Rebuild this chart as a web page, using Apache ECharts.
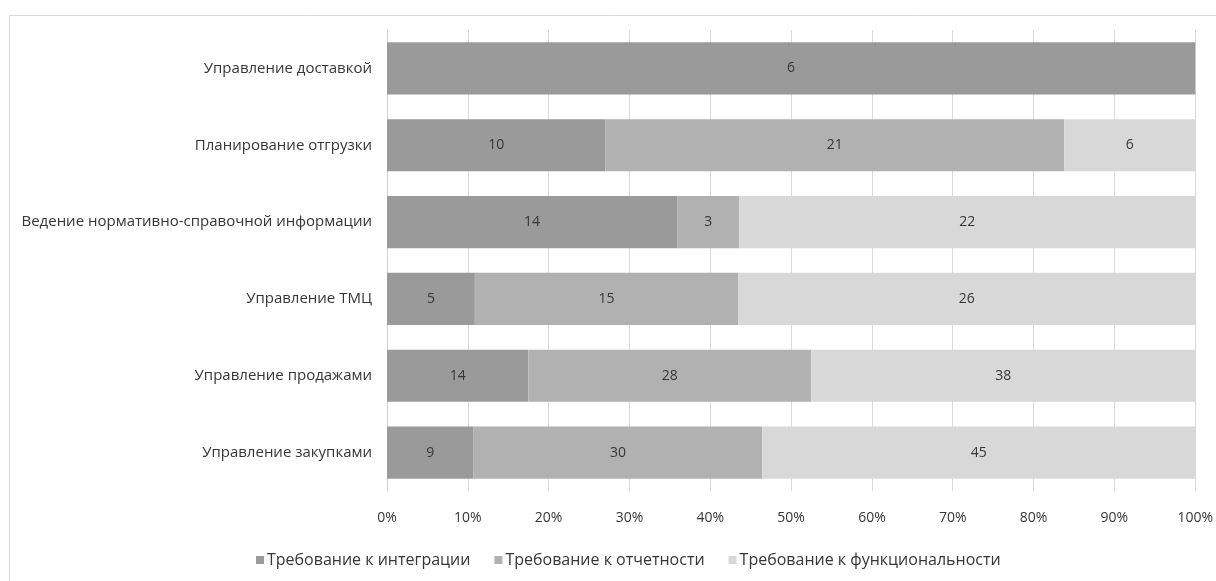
<!DOCTYPE html>
<html>
<head>
<meta charset="utf-8">
<script src="https://cdn.jsdelivr.net/npm/echarts@6/dist/echarts.min.js"></script>
<style>
  html, body { margin: 0; padding: 0; background: #fff; }
  #chart { width: 1216px; height: 581px; }
</style>
</head>
<body>
<div id="chart"></div>
<script>
// Categories listed bottom to top (category axis starts at the bottom)
const categories = [
  'Управление закупками',
  'Управление продажами',
  'Управление ТМЦ',
  'Ведение нормативно-справочной информации',
  'Планирование отгрузки',
  'Управление доставкой'
];
const integration   = [9, 14, 5, 14, 10, 6];
const reporting     = [30, 28, 15, 3, 21, 0];
const functionality = [45, 38, 26, 22, 6, 0];
const seriesNames = ['Требование к интеграции', 'Требование к отчетности', 'Требование к функциональности'];
const seriesColors = ['#9a9a9a', '#b1b1b1', '#d8d8d8'];
const tickLabels = ['0%', '10%', '20%', '30%', '40%', '50%', '60%', '70%', '80%', '90%', '100%'];

const raw = [integration, reporting, functionality];
const totals = categories.map((_, i) => raw.reduce((s, arr) => s + arr[i], 0));

const font = '"Open Sans", "Noto Sans", sans-serif';
const textColor = '#363636';

const series = raw.map((arr, k) => ({
  name: seriesNames[k],
  type: 'bar',
  stack: 'total',
  barCategoryGap: '32%',
  itemStyle: { color: seriesColors[k] },
  label: {
    show: true,
    position: 'inside',
    color: textColor,
    fontFamily: font,
    fontSize: 14,
    formatter: p => (arr[p.dataIndex] > 0 ? String(arr[p.dataIndex]) : '')
  },
  emphasis: { disabled: true },
  data: arr.map((v, i) => v / totals[i] * 100)
}));

const chart = echarts.init(document.getElementById('chart'), null, { renderer: 'canvas' });
chart.setOption({
  animation: false,
  backgroundColor: '#fff',
  textStyle: { fontFamily: font },
  grid: { left: 387, right: 20, top: 30, bottom: 90, containLabel: false },
  legend: {
    data: seriesNames,
    left: 251,
    top: 547,
    itemWidth: 8,
    itemHeight: 8,
    itemGap: 24,
    icon: 'rect',
    textStyle: { color: textColor, fontSize: 16, fontFamily: font, padding: [0, 0, 0, -2] }
  },
  xAxis: {
    type: 'value',
    min: 0,
    max: 100,
    interval: 10,
    axisLine: { show: false },
    axisTick: { show: false },
    splitLine: { show: true, lineStyle: { color: '#dadada', width: 1 } },
    axisLabel: {
      color: textColor,
      fontSize: 14,
      fontFamily: font,
      margin: 20,
      formatter: v => tickLabels[Math.round(v / 10)]
    }
  },
  yAxis: {
    type: 'category',
    data: categories,
    axisLine: { show: true, lineStyle: { color: '#d0d0d0', width: 1 } },
    axisTick: { show: false },
    axisLabel: { color: textColor, fontSize: 15, fontFamily: font, margin: 15 }
  },
  graphic: [{
    type: 'rect',
    shape: { x: 9.5, y: 15.5, width: 1220, height: 600 },
    style: { fill: 'none', stroke: '#d9d9d9', lineWidth: 1 },
    silent: true
  }],
  series: series
});
</script>
</body>
</html>
